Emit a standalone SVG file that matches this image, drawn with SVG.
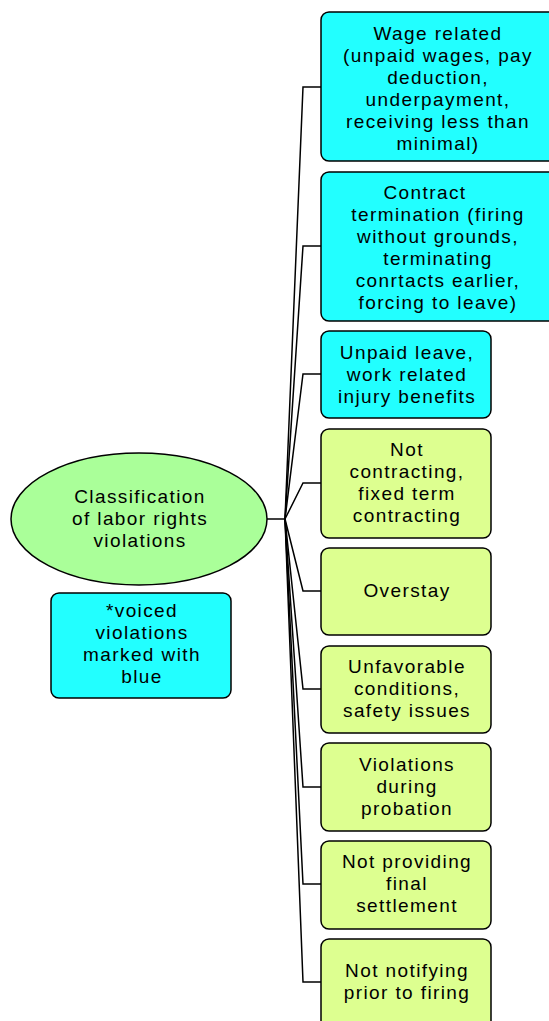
<svg xmlns="http://www.w3.org/2000/svg" width="549" height="1021" viewBox="0 0 549 1021">
<style>
text{font-family:"Liberation Sans",Arial,sans-serif;font-size:19px;letter-spacing:1.4px;fill:#000;text-anchor:middle}
.b{stroke:#000;stroke-width:1.5}
.c{fill:#22FFFF}
.g{fill:#DDFF90}
.e{fill:#AAFF99;stroke:#000;stroke-width:1.5}
#connectors path{fill:none;stroke:#000;stroke-width:1.5}
</style>
<rect width="549" height="1021" fill="#fff"/>
<g id="connectors">
<path d="M267 519H286" stroke-width="2.5"/>
<path d="M285 519L303 87H321"/>
<path d="M285 519L303 246H321"/>
<path d="M285 519L303 374H321"/>
<path d="M285 519L303 483H321"/>
<path d="M285 519L303 591H321"/>
<path d="M285 519L303 689H321"/>
<path d="M285 519L303 787H321"/>
<path d="M285 519L303 884H321"/>
<path d="M285 519L303 982H321"/>
</g>
<g id="root">
<ellipse class="e" cx="139" cy="519" rx="128" ry="66"/>
<text x="140" y="503">Classification</text>
<text x="140" y="525">of labor rights</text>
<text x="140" y="547">violations</text>
</g>
<g id="note">
<rect class="b c" x="51" y="593" width="180" height="105" rx="8"/>
<text x="142" y="617">*voiced</text>
<text x="142" y="639">violations</text>
<text x="142" y="661">marked with</text>
<text x="142" y="683">blue</text>
</g>
<g id="n1">
<rect class="b c" x="321" y="12" width="240" height="149" rx="8"/>
<text x="438" y="40">Wage related</text>
<text x="438" y="62">(unpaid wages, pay</text>
<text x="438" y="84">deduction,</text>
<text x="438" y="106">underpayment,</text>
<text x="438" y="128">receiving less than</text>
<text x="438" y="150">minimal)</text>
</g>
<g id="n2">
<rect class="b c" x="321" y="172" width="240" height="149" rx="8"/>
<text x="425" y="199">Contract</text>
<text x="438" y="221">termination (firing</text>
<text x="438" y="243">without grounds,</text>
<text x="438" y="265">terminating</text>
<text x="438" y="287">conrtacts earlier,</text>
<text x="438" y="309">forcing to leave)</text>
</g>
<g id="n3">
<rect class="b c" x="321" y="331" width="170" height="87" rx="8"/>
<text x="407" y="359">Unpaid leave,</text>
<text x="407" y="381">work related</text>
<text x="407" y="403">injury benefits</text>
</g>
<g id="n4">
<rect class="b g" x="321" y="429" width="170" height="109" rx="8"/>
<text x="407" y="456">Not</text>
<text x="407" y="478">contracting,</text>
<text x="407" y="500">fixed term</text>
<text x="407" y="522">contracting</text>
</g>
<g id="n5">
<rect class="b g" x="321" y="548" width="170" height="87" rx="8"/>
<text x="407" y="597">Overstay</text>
</g>
<g id="n6">
<rect class="b g" x="321" y="646" width="170" height="87" rx="8"/>
<text x="407" y="673">Unfavorable</text>
<text x="407" y="695">conditions,</text>
<text x="407" y="717">safety issues</text>
</g>
<g id="n7">
<rect class="b g" x="321" y="743" width="170" height="88" rx="8"/>
<text x="407" y="771">Violations</text>
<text x="407" y="793">during</text>
<text x="407" y="815">probation</text>
</g>
<g id="n8">
<rect class="b g" x="321" y="841" width="170" height="88" rx="8"/>
<text x="407" y="868">Not providing</text>
<text x="407" y="890">final</text>
<text x="407" y="912">settlement</text>
</g>
<g id="n9">
<rect class="b g" x="321" y="939" width="170" height="100" rx="8"/>
<text x="407" y="977">Not notifying</text>
<text x="407" y="999">prior to firing</text>
</g>
</svg>
